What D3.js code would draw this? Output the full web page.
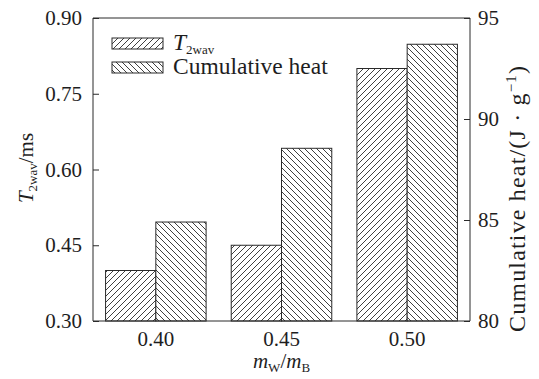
<!DOCTYPE html>
<html>
<head>
<meta charset="utf-8">
<script src="https://cdn.jsdelivr.net/npm/d3@7/dist/d3.min.js"></script>
<style>
  html, body { margin: 0; padding: 0; background: #fff; }
  svg { display: block; font-family: "Liberation Serif", "Times New Roman", serif; }
</style>
</head>
<body>
<svg id="chart" width="539" height="379"></svg>
<script>
// Mass ratio categories and the two measured series
const ratios = ["0.40", "0.45", "0.50"];
const t2wav = [0.40, 0.45, 0.80];          // ms, left axis
const cumulativeHeat = [84.9, 88.55, 93.7]; // J/g, right axis
const leftTicks = [0.30, 0.45, 0.60, 0.75, 0.90];
const rightTicks = [80, 85, 90, 95];

const svg = d3.select("#chart");
const margin = { left: 93, right: 69, top: 18, bottom: 58 };
const W = 539, H = 379;
const x0 = margin.left, x1 = W - margin.right, y0 = H - margin.bottom, y1 = margin.top;

const ink = "#2a2a2a";
const textInk = "#1e1e1e";
const serif = "Liberation Serif, Times New Roman, serif";

// Hatch patterns: forward slash for T2wav, back slash for cumulative heat
const defs = svg.append("defs");
function hatch(id, d) {
  const p = defs.append("pattern").attr("id", id)
    .attr("patternUnits", "userSpaceOnUse").attr("width", 6).attr("height", 6);
  p.append("rect").attr("width", 6).attr("height", 6).attr("fill", "#fff");
  p.append("path").attr("d", d).attr("stroke", ink).attr("stroke-width", 0.9).attr("fill", "none");
}
hatch("fwd", "M0,6 L6,0 M-1,1 L1,-1 M5,7 L7,5");
hatch("bwd", "M0,0 L6,6 M-1,5 L1,7 M5,-1 L7,1");

const x = d3.scaleBand().domain(ratios).range([x0, x1]).paddingInner(0.2).paddingOuter(0.1);
const xs = d3.scaleBand().domain(["t", "h"]).range([0, x.bandwidth()]);
const yL = d3.scaleLinear().domain([0.30, 0.90]).range([y0, y1]);
const yR = d3.scaleLinear().domain([80, 95]).range([y0, y1]);

// Bars
const g = svg.append("g");
g.selectAll("rect.t").data(ratios).join("rect").attr("class", "t")
  .attr("x", d => x(d) + xs("t")).attr("width", xs.bandwidth())
  .attr("y", (d, i) => yL(t2wav[i])).attr("height", (d, i) => y0 - yL(t2wav[i]))
  .attr("fill", "url(#fwd)").attr("stroke", ink).attr("stroke-width", 1);
g.selectAll("rect.h").data(ratios).join("rect").attr("class", "h")
  .attr("x", d => x(d) + xs("h")).attr("width", xs.bandwidth())
  .attr("y", (d, i) => yR(cumulativeHeat[i])).attr("height", (d, i) => y0 - yR(cumulativeHeat[i]))
  .attr("fill", "url(#bwd)").attr("stroke", ink).attr("stroke-width", 1);

// Axes
const fs = 21;
const axL = svg.append("g").attr("transform", `translate(${x0},0)`)
  .call(d3.axisLeft(yL).tickValues(leftTicks).tickFormat(d3.format(".2f")).tickSizeInner(-6).tickSizeOuter(0).tickPadding(11));
const axR = svg.append("g").attr("transform", `translate(${x1},0)`)
  .call(d3.axisRight(yR).tickValues(rightTicks).tickFormat(d3.format("d")).tickSizeInner(-6).tickSizeOuter(0).tickPadding(8));
const axB = svg.append("g").attr("transform", `translate(0,${y0})`)
  .call(d3.axisBottom(x).tickSize(0).tickSizeOuter(0).tickPadding(10));
const axT = svg.append("g").attr("transform", `translate(0,${y1})`)
  .call(d3.axisTop(x).tickSize(0).tickSizeOuter(0).tickFormat(""));
[axL, axR, axB, axT].forEach(a => {
  a.attr("font-family", serif);
  a.selectAll("path.domain").attr("stroke", ink).attr("stroke-width", 1);
  a.selectAll("line").attr("stroke", ink).attr("stroke-width", 1);
  a.selectAll("text").attr("font-family", serif).attr("font-size", fs).attr("fill", textInk);
});
axL.select("path.domain").attr("d", `M0,${y0}V${y1}`);
axR.select("path.domain").attr("d", `M0,${y0}V${y1}`);
axB.select("path.domain").attr("d", `M${x0},0H${x1}`);
axT.select("path.domain").attr("d", `M${x0},0H${x1}`);

// Axis titles
const tL = svg.append("text").attr("transform", "translate(33,168) rotate(-90)")
  .attr("text-anchor", "middle").attr("font-size", fs).attr("fill", textInk);
tL.append("tspan").attr("font-style", "italic").text("T");
tL.append("tspan").attr("font-size", 13).attr("dy", 4).text("2wav");
tL.append("tspan").attr("dy", -4).text("/ms");

const tR = svg.append("text").attr("transform", "translate(525,199) rotate(-90)")
  .attr("text-anchor", "middle").attr("font-size", 24).attr("fill", textInk)
  .attr("textLength", 266).attr("lengthAdjust", "spacing");
tR.append("tspan").text("Cumulative heat/(J \u00b7 g");
tR.append("tspan").attr("font-size", 15).attr("dy", -9).text("\u22121");
tR.append("tspan").attr("dy", 9).text(")");

const tB = svg.append("text").attr("x", (x0 + x1) / 2).attr("y", 368)
  .attr("text-anchor", "middle").attr("font-size", fs).attr("fill", textInk);
tB.append("tspan").attr("font-style", "italic").text("m");
tB.append("tspan").attr("font-size", 13).attr("dy", 4).text("W");
tB.append("tspan").attr("dy", -4).text("/");
tB.append("tspan").attr("font-style", "italic").text("m");
tB.append("tspan").attr("font-size", 13).attr("dy", 4).text("B");

// Legend
const legend = svg.append("g");
const items = [
  { fill: "url(#fwd)", y: 38 },
  { fill: "url(#bwd)", y: 62 }
];
legend.selectAll("rect").data(items).join("rect")
  .attr("x", 112).attr("y", d => d.y).attr("width", 51).attr("height", 11)
  .attr("fill", d => d.fill).attr("stroke", ink).attr("stroke-width", 1);
const l1 = legend.append("text").attr("x", 173).attr("y", 50).attr("font-size", 23.5).attr("fill", textInk);
l1.append("tspan").attr("font-style", "italic").text("T");
l1.append("tspan").attr("font-size", 13).attr("dy", 4).text("2wav");
legend.append("text").attr("x", 173).attr("y", 74).attr("font-size", 23.5).attr("fill", textInk)
  .text("Cumulative heat");
</script>
</body>
</html>
